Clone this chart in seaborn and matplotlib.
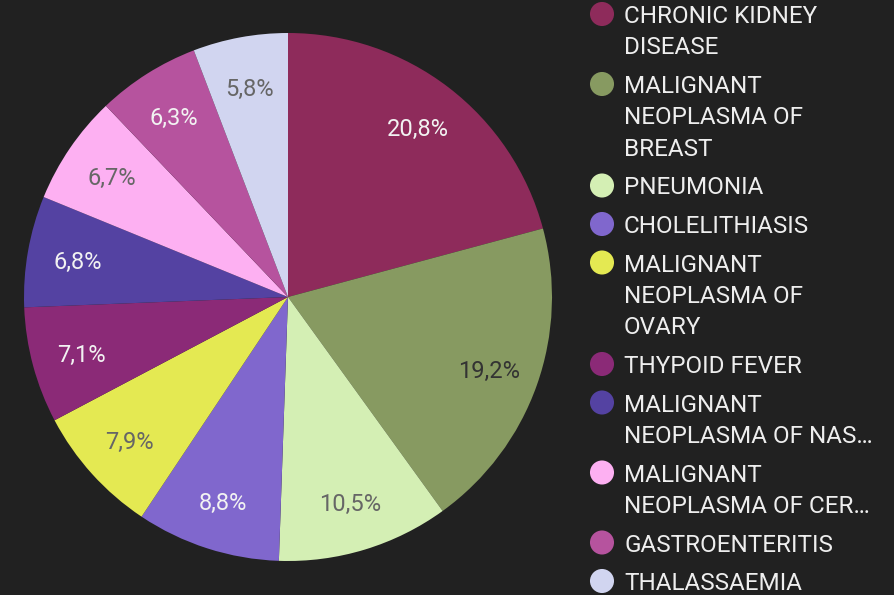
# Disease share pie chart (dark theme)
import numpy as np
import matplotlib
matplotlib.use("Agg")
import matplotlib.pyplot as plt
import seaborn as sns

# ------------------------------------------
# Data
# ------------------------------------------
diseases = [
    "CHRONIC KIDNEY\nDISEASE",
    "MALIGNANT\nNEOPLASMA OF\nBREAST",
    "PNEUMONIA",
    "CHOLELITHIASIS",
    "MALIGNANT\nNEOPLASMA OF\nOVARY",
    "THYPOID FEVER",
    "MALIGNANT\nNEOPLASMA OF NAS…",
    "MALIGNANT\nNEOPLASMA OF CER…",
    "GASTROENTERITIS",
    "THALASSAEMIA",
]
shares = [20.8, 19.2, 10.5, 8.8, 7.9, 7.1, 6.8, 6.7, 6.3, 5.8]
slice_colors = ["#8E2B5B", "#879A61", "#D4EFB4", "#8067CD", "#E4E952",
                "#8B2A77", "#5442A2", "#FDB0F2", "#B6539E", "#D1D5F0"]
label_colors = ["#F2F2F2", "#333333", "#666666", "#F2F2F2", "#666666",
                "#F2F2F2", "#F2F2F2", "#666666", "#F2F2F2", "#666666"]

# ------------------------------------------
# Style
# ------------------------------------------
bg = "#212121"
sns.set_theme(style="dark", rc={"figure.facecolor": bg, "axes.facecolor": bg})
plt.rcParams["font.family"] = ["Roboto", "DejaVu Sans"]
palette = sns.color_palette(slice_colors)

fig = plt.figure(figsize=(8.94, 5.95), dpi=100)

# pie axes: centre (288, 297) px, radius 264 px
W, H = 894, 595
cx, cy, r = 288, 297, 264
ax = fig.add_axes([(cx - r) / W, (H - cy - r) / H, 2 * r / W, 2 * r / H])

wedges, texts, autotexts = ax.pie(
    shares,
    colors=palette,
    startangle=90,
    counterclock=False,
    autopct=lambda p: f"{p:.1f}%".replace(".", ","),
    pctdistance=0.81,
    wedgeprops=dict(linewidth=0),
    textprops=dict(fontsize=17),
)
for t, c in zip(autotexts, label_colors):
    t.set_color(c)
    t.set_va("center_baseline")
ax.set_xlim(-1, 1)
ax.set_ylim(-1, 1)
ax.set_aspect("equal")
ax.axis("off")

# ------------------------------------------
# Legend (drawn in pixel coordinates)
# ------------------------------------------
lax = fig.add_axes([0, 0, 1, 1])
lax.set_xlim(0, W)
lax.set_ylim(H, 0)
lax.axis("off")

line_h = 31.5
gap = 7
y = 14
for name, col in zip(diseases, palette):
    lax.scatter([602], [y], s=300, color=col, edgecolors="none")
    for i, line in enumerate(name.split("\n")):
        lax.text(624, y + i * line_h + 9, line, fontsize=17.5,
                 color="#EEEEEE", va="baseline", ha="left")
    y += line_h * len(name.split("\n")) + gap

plt.savefig("out.png", dpi=100, facecolor=bg)
